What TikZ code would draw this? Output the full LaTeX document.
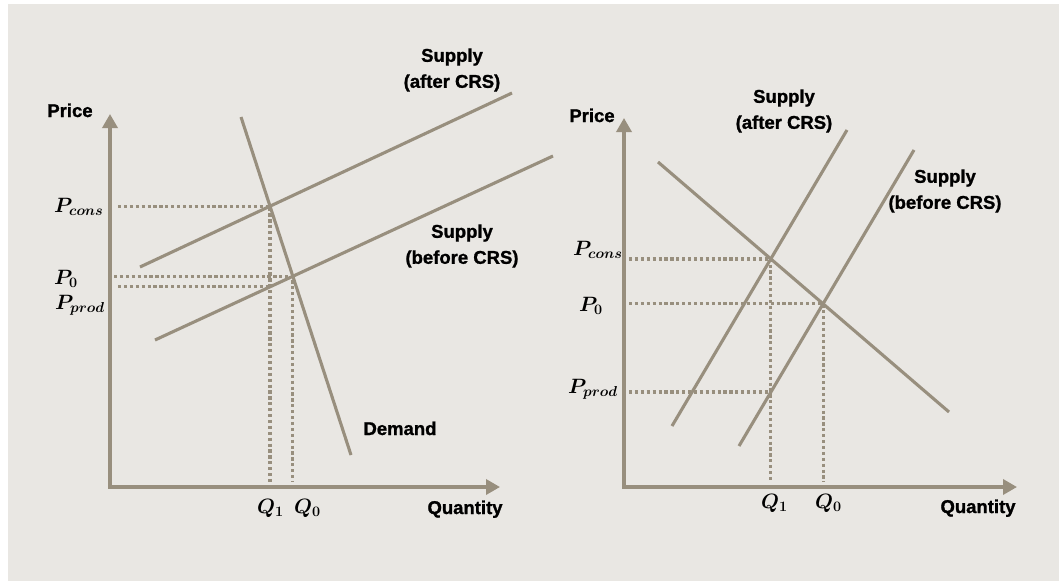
\documentclass[tikz,border=0pt]{standalone}
\usepackage{fontspec}
\setmainfont{Liberation Sans}[BoldFeatures={FakeBold=1.2}]
\usepackage{bm}
\usetikzlibrary{arrows.meta, calc}
\definecolor{crsline}{RGB}{152,143,126}
\definecolor{crsbg}{RGB}{233,231,227}

\begin{document}
\begin{tikzpicture}[
    x=1pt, y=-1pt,                   % pixel units, y grows downwards
    axis/.style={line width=3.4pt, color=crsline, line join=miter,
                 {Triangle[length=14pt, width=15pt]}-{Triangle[length=14pt, width=15pt]}},
    curve/.style={line width=3.1pt, color=crsline},
    guide/.style={line width=3.2pt, color=crsline,
                  dash pattern=on 3.2pt off 2.7pt},
    lab/.style={font=\fontsize{18.5}{26}\selectfont\bfseries,
                inner sep=0pt, align=center},
    mlab/.style={font=\fontsize{21}{24}\selectfont,
                 inner sep=0pt, anchor=base west}
]
\useasboundingbox (0,0) rectangle (1059,581);
\fill[crsbg] (8,4) rectangle (1059,581);

% ---------- left panel: inelastic demand
\coordinate (lO)   at (110,487);
\coordinate (lYt)  at (110,114);
\coordinate (lXt)  at (500,487);
\coordinate (lSa1) at (140,267);
\coordinate (lSa2) at (512,93);
\coordinate (lSb1) at (155,340);
\coordinate (lSb2) at (553,156);
\coordinate (lD1)  at (241,117);
\coordinate (lD2)  at (351,455);

\coordinate (lPc) at (intersection of lSa1--lSa2 and lD1--lD2);
\coordinate (lE0) at (intersection of lSb1--lSb2 and lD1--lD2);
\coordinate (lQ1) at (lPc |- lO);
\coordinate (lPp) at (intersection of lSb1--lSb2 and lPc--lQ1);

\draw [guide] ($(lPc -| lO)+(8,0)$) -- (lPc) -- ($(lQ1)+(0,-5)$);
\draw [guide] ($(lE0 -| lO)+(4,0)$) -- (lE0) -- ($(lE0 |- lO)+(0,-5)$);
\draw [guide] ($(lPp -| lO)+(8,0)$) -- (lPp);

\draw [axis]  (lYt) -- (lO) -- (lXt);
\draw [curve] (lSa1) -- (lSa2);
\draw [curve] (lSb1) -- (lSb2);
\draw [curve] (lD1)  -- (lD2);

\node (lprice)  [lab, anchor=base] at (70,117)  {Price};
\node (lqty)    [lab, anchor=base] at (465,514) {Quantity};
\node (ldem)    [lab, anchor=base] at (400,435) {Demand};
\node (lsafter) [lab]              at (452,70)  {Supply\\(after CRS)};
\node (lsbefore)[lab]              at (462,246) {Supply\\(before CRS)};

\node (lpcons) [mlab] at (54,212)  {$\bm{P_{cons}}$};
\node (lpzero) [mlab] at (54,284)  {$\bm{P_0}$};
\node (lpprod) [mlab] at (55,309)  {$\bm{P_{prod}}$};
\node (lqone)  [mlab] at (257,513) {$\bm{Q_1}$};
\node (lqzero) [mlab] at (294,513) {$\bm{Q_0}$};

% ---------- right panel: elastic demand
\coordinate (rO)   at (624,487);
\coordinate (rYt)  at (624,118);
\coordinate (rXt)  at (1017,487);
\coordinate (rSa1) at (672,426);
\coordinate (rSa2) at (847,130);
\coordinate (rSb1) at (739,446);
\coordinate (rSb2) at (914,150);
\coordinate (rD1)  at (658,162);
\coordinate (rD2)  at (949,412);

\coordinate (rPc) at (intersection of rSa1--rSa2 and rD1--rD2);
\coordinate (rE0) at (intersection of rSb1--rSb2 and rD1--rD2);
\coordinate (rQ1) at (rPc |- rO);
\coordinate (rPp) at (intersection of rSb1--rSb2 and rPc--rQ1);

\draw [guide] ($(rPc -| rO)+(5,0)$) -- (rPc) -- ($(rQ1)+(0,-5)$);
\draw [guide] ($(rE0 -| rO)+(5,0)$) -- (rE0) -- ($(rE0 |- rO)+(0,-5)$);
\draw [guide] ($(rPp -| rO)+(5,0)$) -- (rPp);

\draw [axis]  (rYt) -- (rO) -- (rXt);
\draw [curve] (rSa1) -- (rSa2);
\draw [curve] (rSb1) -- (rSb2);
\draw [curve] (rD1)  -- (rD2);

\node (rprice)  [lab, anchor=base] at (592,122) {Price};
\node (rqty)    [lab, anchor=base] at (978,513) {Quantity};
\node (rsafter) [lab]              at (784,111) {Supply\\(after CRS)};
\node (rsbefore)[lab]              at (945,191) {Supply\\(before CRS)};

\node (rpcons) [mlab] at (573,255) {$\bm{P_{cons}}$};
\node (rpzero) [mlab] at (579,311) {$\bm{P_0}$};
\node (rpprod) [mlab] at (568,393) {$\bm{P_{prod}}$};
\node (rqone)  [mlab] at (761,508) {$\bm{Q_1}$};
\node (rqzero) [mlab] at (815,508) {$\bm{Q_0}$};
\end{tikzpicture}
\end{document}
